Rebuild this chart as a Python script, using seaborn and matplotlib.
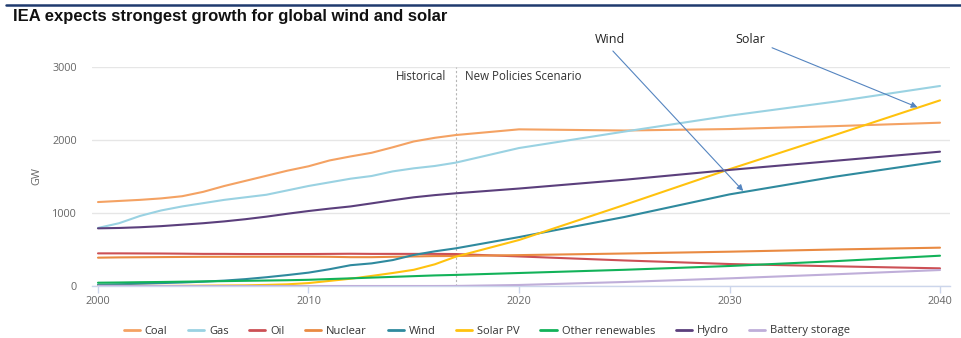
import matplotlib
matplotlib.use("Agg")
import matplotlib.pyplot as plt
import seaborn as sns
import pandas as pd
from matplotlib.lines import Line2D

years = list(range(2000, 2018)) + [2020, 2025, 2030, 2035, 2040]

coal = [1150, 1165, 1180, 1200, 1230, 1290, 1370, 1440, 1510, 1580, 1640, 1720, 1775, 1825,
        1900, 1980, 2030, 2068, 2146, 2130, 2150, 2190, 2237]
gas = [795, 860, 960, 1035, 1090, 1135, 1180, 1215, 1250, 1310, 1370, 1420, 1470, 1507,
       1570, 1612, 1644, 1690, 1890, 2115, 2333, 2525, 2740]
oil = [447, 447, 446, 445, 443, 440, 440, 438, 438, 438, 438, 440, 442, 440,
       440, 440, 440, 438, 405, 350, 301, 270, 242]
nuclear = [388, 392, 394, 396, 398, 400, 400, 401, 401, 402, 402, 400, 395, 395,
           400, 405, 410, 411, 423, 445, 470, 500, 525]
wind = [17, 24, 31, 40, 48, 59, 74, 94, 120, 150, 183, 230, 285, 310,
        355, 425, 475, 516, 670, 945, 1255, 1497, 1708]
solar = [1, 1, 2, 2, 3, 5, 7, 9, 15, 23, 40, 70, 100, 138,
         178, 222, 297, 402, 630, 1110, 1600, 2068, 2543]
other_ren = [45, 48, 52, 55, 59, 63, 67, 71, 75, 79, 85, 95, 105, 115,
             125, 135, 145, 152, 178, 222, 274, 340, 415]
hydro = [790, 795, 805, 820, 840, 860, 885, 915, 950, 990, 1027, 1060, 1090, 1132,
         1175, 1215, 1245, 1270, 1335, 1455, 1590, 1715, 1840]
battery = [0, 0, 0, 0, 0, 0, 0, 0, 0, 0, 0, 0, 0, 0,
           0, 0, 0, 1, 14, 55, 105, 160, 219]

series_names = ["Coal", "Gas", "Oil", "Nuclear", "Wind", "Solar PV",
                "Other renewables", "Hydro", "Battery storage"]
series_values = [coal, gas, oil, nuclear, wind, solar, other_ren, hydro, battery]
colors = ["#f4a263", "#9ad2e2", "#cc5055", "#e98a42", "#2f8a9e", "#ffc20e",
          "#12b259", "#5b3f7c", "#bfaed9"]

x_ticks = [2000, 2010, 2020, 2030, 2040]
y_ticks = [0, 1000, 2000, 3000]
split_year = 2017

rows = []
for name, vals in zip(series_names, series_values):
    for y, v in zip(years, vals):
        rows.append({"Year": y, "GW": v, "Series": name})
df = pd.DataFrame(rows)

sns.set_theme(style="white")
plt.rcParams["font.family"] = ["Open Sans", "DejaVu Sans"]

fig = plt.figure(figsize=(9.61, 3.38), dpi=100)
fig.patch.set_facecolor("white")
ax = fig.add_axes([92 / 961, 52 / 338, 858 / 961, 219 / 338])
ax.set_facecolor("white")

palette = dict(zip(series_names, colors))
sns.lineplot(data=df, x="Year", y="GW", hue="Series", hue_order=series_names,
             palette=palette, linewidth=1.5, ax=ax, legend=False, zorder=3)

ax.set_xlim(1999.715, 2040.475)
ax.set_ylim(0, 3000)
ax.set_xticks(x_ticks)
ax.set_yticks(y_ticks)
ax.set_xticklabels([str(t) for t in x_ticks], fontsize=7.8, color="#666666")
ax.set_yticklabels([str(t) for t in y_ticks], fontsize=7.8, color="#666666")
for s in ["top", "right", "left"]:
    ax.spines[s].set_visible(False)
ax.spines["bottom"].set_color("#ccd6eb")
ax.spines["bottom"].set_linewidth(1)
ax.tick_params(axis="x", length=5, width=1, color="#ccd6eb", pad=2, direction="out", bottom=True)
ax.tick_params(axis="y", length=0, pad=11)
ax.yaxis.grid(True, color="#e6e6e6", linewidth=1)
ax.xaxis.grid(False)
ax.set_axisbelow(True)
ax.set_xlabel("")
ax.set_ylabel("GW", fontsize=7.8, color="#666666", labelpad=7)

ax.axvline(split_year, color="#b5b5b5", linestyle=(0, (2, 2)), linewidth=0.8, zorder=2)
ax.text(split_year - 0.45, 2870, "Historical", ha="right", va="center", fontsize=8.3, color="#333333")
ax.text(split_year + 0.45, 2870, "New Policies Scenario", ha="left", va="center", fontsize=8.3, color="#333333")

arrow_col = "#5585c0"
ax.annotate("", xy=(2030.74, 1274), xytext=(2024.37, 3247),
            arrowprops=dict(arrowstyle="-|>", color=arrow_col, lw=0.8, mutation_scale=9),
            annotation_clip=False)
ax.text(2024.3, 3370, "Wind", ha="center", va="center", fontsize=9, color="#222222", clip_on=False)
ax.annotate("", xy=(2039.05, 2434), xytext=(2031.9, 3278),
            arrowprops=dict(arrowstyle="-|>", color=arrow_col, lw=0.8, mutation_scale=9),
            annotation_clip=False)
ax.text(2030.97, 3370, "Solar", ha="center", va="center", fontsize=9, color="#222222", clip_on=False)

handles = [Line2D([0], [0], color=c, lw=2) for c in colors]
fig.legend(handles, series_names, loc="center", bbox_to_anchor=(487 / 961, 1 - 331 / 338),
           ncol=9, frameon=False, fontsize=8, handlelength=1.45, handletextpad=0.45,
           columnspacing=1.85, labelcolor="#333333")

fig.text(13 / 961, 1 - 17 / 338, "IEA expects strongest growth for global wind and solar",
         fontsize=12, fontweight="bold", color="#111111", va="center", ha="left",
         family=["Liberation Sans", "DejaVu Sans"])
fig.add_artist(Line2D([6 / 961, 1.0], [1 - 5 / 338, 1 - 5 / 338], color="#1f3a6e", lw=1.8))

fig.savefig("out.png", dpi=100, facecolor="white")
